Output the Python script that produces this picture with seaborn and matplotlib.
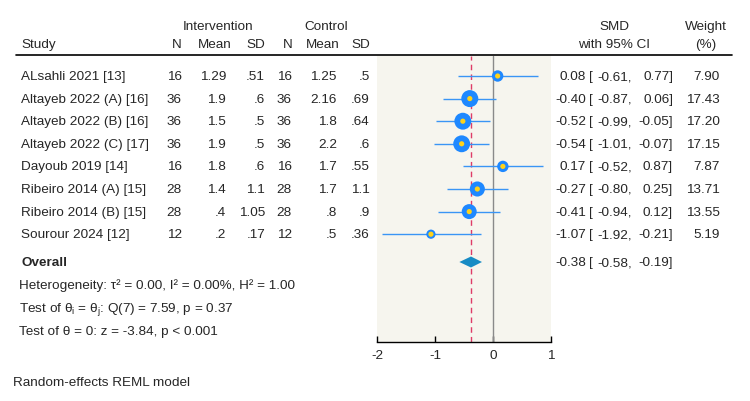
import matplotlib
matplotlib.use("Agg")
import matplotlib.pyplot as plt
import matplotlib.transforms as mtransforms
from matplotlib.lines import Line2D
import seaborn as sns
import pandas as pd

# ---------------- data ----------------
studies = ["ALsahli 2021 [13]", "Altayeb 2022 (A) [16]", "Altayeb 2022 (B) [16]",
           "Altayeb 2022 (C) [17]", "Dayoub 2019 [14]", "Ribeiro 2014 (A) [15]",
           "Ribeiro 2014 (B) [15]", "Sourour 2024 [12]"]
int_n = ["16", "36", "36", "36", "16", "28", "28", "12"]
int_mean = ["1.29", "1.9", "1.5", "1.9", "1.8", "1.4", ".4", ".2"]
int_sd = [".51", ".6", ".5", ".5", ".6", "1.1", "1.05", ".17"]
ctl_n = ["16", "36", "36", "36", "16", "28", "28", "12"]
ctl_mean = ["1.25", "2.16", "1.8", "2.2", "1.7", "1.7", ".8", ".5"]
ctl_sd = [".5", ".69", ".64", ".6", ".55", "1.1", ".9", ".36"]
smd = [0.08, -0.40, -0.52, -0.54, 0.17, -0.27, -0.41, -1.07]
ci_lo = [-0.61, -0.87, -0.99, -1.01, -0.52, -0.80, -0.94, -1.92]
ci_hi = [0.77, 0.06, -0.05, -0.07, 0.87, 0.25, 0.12, -0.21]
weights = [7.90, 17.43, 17.20, 17.15, 7.87, 13.71, 13.55, 5.19]
overall_smd = -0.38
overall_lo = -0.58
overall_hi = -0.19
x_ticks = [-2, -1, 0, 1]
het_lines = ["Heterogeneity: \u03c4\u00b2 = 0.00, I\u00b2 = 0.00%, H\u00b2 = 1.00",
             "Test of \u03b8$_\\mathregular{i}$ = \u03b8$_\\mathregular{j}$: Q(7) = 7.59, p = 0.37",
             "Test of \u03b8 = 0: z = -3.84, p < 0.001"]
footnote = "Random-effects REML model"

# ---------------- style ----------------
sns.set_style("white")
plt.rcParams["font.family"] = ["Liberation Sans", "DejaVu Sans"]
plt.rcParams["mathtext.fontset"] = "custom"
plt.rcParams["mathtext.rm"] = "Liberation Sans"
plt.rcParams["axes.unicode_minus"] = False
FS = 9.7

W, H = 750, 402
fig = plt.figure(figsize=(W / 100, H / 100), dpi=100)
fig.patch.set_facecolor("white")

ax_left, ax_right, ax_top, ax_bot = 377, 551, 57, 343
ax = fig.add_axes([ax_left / W, 1 - ax_bot / H, (ax_right - ax_left) / W, (ax_bot - ax_top) / H])
ax.set_facecolor("#F6F5EE")

row0, step = 77, 22.6
def ypos(px):
    return (px - row0) / step

ax.set_xlim(-2, 1)
ax.set_ylim(ypos(ax_bot), ypos(ax_top))

n = len(studies)
ys = list(range(n))
y_overall = ypos(263)

df = pd.DataFrame({"study": studies, "smd": smd, "lo": ci_lo, "hi": ci_hi,
                   "w": weights, "y": ys})

# reference lines
ax.axvline(0, color="#8a8a8a", lw=1, zorder=1)
ax.axvline(overall_smd, color="#DE3C68", lw=1, ls=(0, (4, 3)), zorder=2)

# CI lines
ax.hlines(df["y"], df["lo"], df["hi"], color="#3A95F5", lw=1.0, zorder=3)

# markers sized by weight
sns.scatterplot(data=df, x="smd", y="y", size="w", sizes=(44, 150),
                size_norm=(min(weights), max(weights)), color="#1E88FF",
                edgecolor="none", legend=False, ax=ax, zorder=4)
sns.scatterplot(data=df, x="smd", y="y", s=14, color="#FFD21A",
                edgecolor="none", legend=False, ax=ax, zorder=5)

# overall diamond
dh = 5.5 / step
ax.fill([overall_lo, overall_smd, overall_hi, overall_smd],
        [y_overall, y_overall - dh, y_overall, y_overall + dh],
        color="#178BC4", lw=0, zorder=4)

# axes styling
for s in ["top", "right", "left"]:
    ax.spines[s].set_visible(False)
ax.spines["bottom"].set_color("black")
ax.spines["bottom"].set_linewidth(1)
ax.set_xticks(x_ticks)
ax.set_xticklabels([str(t) for t in x_ticks], fontsize=FS)
ax.tick_params(axis="x", direction="in", length=4, width=1, color="black", pad=5,
               bottom=True)
ax.set_yticks([])
ax.set_xlabel("")
ax.set_ylabel("")

# ---------------- text columns ----------------
tr = mtransforms.blended_transform_factory(fig.transFigure, ax.transData)
def T(xpx, y, s, ha="left", **kw):
    fig.text(xpx / W, y, s, ha=ha, va="center", fontsize=FS, transform=tr, **kw)

# headers
yh1, yh2 = ypos(27), ypos(45)
T(218, yh1, "Intervention", ha="center")
T(326, yh1, "Control", ha="center")
T(614, yh1, "SMD", ha="center")
T(706, yh1, "Weight", ha="center")
T(21, yh2, "Study")
T(182, yh2, "N", ha="right")
T(232, yh2, "Mean", ha="right")
T(265, yh2, "SD", ha="right")
T(293, yh2, "N", ha="right")
T(340, yh2, "Mean", ha="right")
T(370, yh2, "SD", ha="right")
T(614, yh2, "with 95% CI", ha="center")
T(706, yh2, "(%)", ha="center")
fig.add_artist(Line2D([16 / W, 732 / W], [1 - 55.5 / H, 1 - 55.5 / H],
                      color="black", lw=1.2, transform=fig.transFigure))

for i in range(n):
    y = ys[i]
    T(21, y, studies[i])
    T(182, y, int_n[i], ha="right")
    T(226, y, int_mean[i], ha="right")
    T(265, y, int_sd[i], ha="right")
    T(292, y, ctl_n[i], ha="right")
    T(337, y, ctl_mean[i], ha="right")
    T(370, y, ctl_sd[i], ha="right")
    T(586, y, f"{smd[i]:.2f}", ha="right")
    T(589, y, "[")
    T(632, y, f"{ci_lo[i]:.2f},", ha="right")
    T(673, y, f"{ci_hi[i]:.2f}]", ha="right")
    T(720, y, f"{weights[i]:.2f}", ha="right")

T(21, y_overall, "Overall", fontweight="bold")
T(586, y_overall, f"{overall_smd:.2f}", ha="right")
T(589, y_overall, "[")
T(632, y_overall, f"{overall_lo:.2f},", ha="right")
T(673, y_overall, f"{overall_hi:.2f}]", ha="right")

for k, line in enumerate(het_lines):
    T(19, ypos(286 + 23 * k), line)

T(13, ypos(383), footnote)

fig.savefig("out.png", dpi=100, facecolor="white")
